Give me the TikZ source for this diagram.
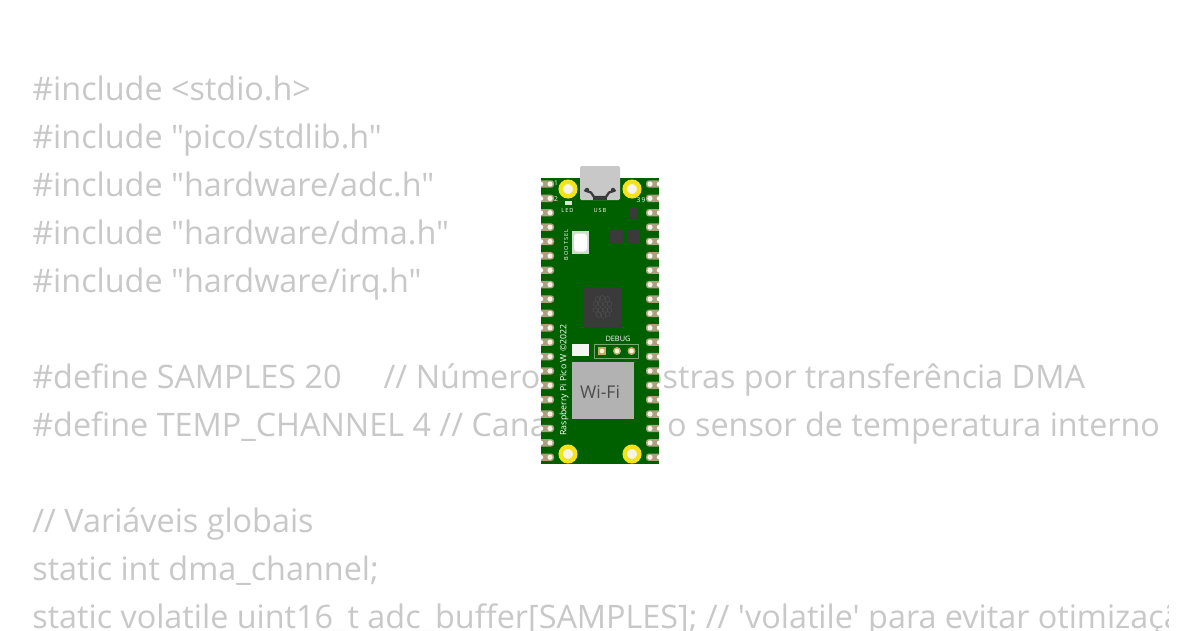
\documentclass[tikz,border=0pt]{standalone}
\usepackage{fontspec}
\usepackage{tikz}
\newfontfamily\codefont{Open Sans}
\definecolor{codegray}{HTML}{C8C8C8}
\definecolor{pcbgreen}{HTML}{006000}
\definecolor{padtan}{HTML}{ACA080}
\definecolor{padgold}{HTML}{C4AC5C}
\definecolor{holecream}{HTML}{F6F4E6}
\definecolor{chipdark}{HTML}{3A3A3A}
\definecolor{ringyellow}{HTML}{F4E31C}
\tikzset{
  codeline/.style={anchor=base west, inner sep=0pt, text=codegray, font=\codefont\fontsize{18.41}{22}\selectfont},
  silk/.style={inner sep=0pt, text=white, font=\codefont\fontsize{3.2}{4}\selectfont},
  pinlabel/.style={silk, font=\codefont\fontsize{3.8}{4}\selectfont},
  mounthole/.style={circle, fill=holecream, draw=ringyellow, line width=2.56pt, minimum size=0.29cm, inner sep=0pt, outer sep=0pt}
}

\begin{document}
\begin{tikzpicture}[x=0.02cm, y=-0.02cm]
  \useasboundingbox (0,0) rectangle (1200,630);
  \fill[white] (0,0) rectangle (1200,630);

  % code behind the board
  \begin{scope}
    \clip (0,0) rectangle (1168,630);
    \node[codeline] (inc1) at (32,100) {\#include <stdio.h>};
    \node[codeline] (inc2) at (32,148) {\#include "pico/stdlib.h"};
    \node[codeline] (inc3) at (32,196) {\#include "hardware/adc.h"};
    \node[codeline] (inc4) at (32,244) {\#include "hardware/dma.h"};
    \node[codeline] (inc5) at (32,292) {\#include "hardware/irq.h"};
    \node[codeline] (def1) at (32,388) {\#define SAMPLES 20\ \ \ \ \ // Número de amostras por transferência DMA};
    \node[codeline] (def2) at (32,436) {\#define TEMP\_CHANNEL 4 // Canal\hspace{0.52cm} para o sensor de temperatura interno};
    \node[codeline] (var1) at (32,532) {// Variáveis globais};
    \node[codeline] (var2) at (32,580) {static int dma\_channel;};
    \node[codeline] (var3) at (32,628) {static volatile uint16\_t adc\_buffer[SAMPLES]; // 'volatile' para evitar otimização};
  \end{scope}

  % board
  \fill[pcbgreen] (541,178) rectangle (659,464);

  % castellated pads
  \foreach \i in {0,...,19} {
    \pgfmathsetmacro{\py}{184+14.38*\i}
    \fill[padtan] (541,\py-3.7) [rounded corners=1.6pt] -- (554,\py-3.7) -- (554,\py+3.7) [sharp corners] -- (541,\py+3.7) -- cycle;
    \fill[padtan] (659,\py-3.7) [rounded corners=1.6pt] -- (646,\py-3.7) -- (646,\py+3.7) [sharp corners] -- (659,\py+3.7) -- cycle;
    \fill[holecream] (550,\py) circle (2.6);
    \fill[holecream] (650,\py) circle (2.6);
    \fill[white] (541,\py) circle (2.2);
    \fill[white] (659,\py) circle (2.2);
  }

  % usb connector
  \fill[codegray, rounded corners=0.8pt] (580,166) rectangle (620,200);
  \draw[chipdark, line width=1.3pt, line cap=round, line join=round] (585,190.5) -- (591,192.5) -- (594,197) -- (606,197) -- (609,192.5) -- (615,190.5);
  \fill[chipdark] (587,190) circle (2.2);
  \fill[chipdark] (613,190) circle (2.2);
  \fill[chipdark] (593,195.5) rectangle (607,200);

  % mounting holes
  \node[mounthole] (hole1) at (568,189) {};
  \node[mounthole] (hole2) at (632,189) {};
  \node[mounthole] (hole3) at (568,454) {};
  \node[mounthole] (hole4) at (632,454) {};

  % silk labels
  \node[pinlabel] (pin1) at (556,183.5) {1};
  \node[pinlabel] (pin2) at (556,199.5) {2};
  \node[pinlabel] (pin39) at (641,200) {3\,9};
  \node[silk] (ledlabel) at (567.5,210) {L\,E\,D};
  \node[silk] (usblabel) at (600,210) {U\,S\,B};
  \node[silk, rotate=90] (bootlabel) at (566,245) {B\,O\,O\,T\,S\,E\,L};
  \node[silk, font=\codefont\fontsize{4.2}{5}\selectfont] (debuglabel) at (618,338.5) {DEBUG};
  \node[silk, rotate=90, font=\codefont\fontsize{5}{6}\selectfont] (namelabel) at (564,380) {Raspberry Pi Pico W ©2022};

  % led and small parts
  \fill[white!85!pcbgreen] (565,201) rectangle (571.5,205);
  \fill[chipdark] (630,208) rectangle (637,219);
  \fill[chipdark] (609.5,229) rectangle (623,244);
  \fill[chipdark] (628,229) rectangle (640,244);

  % bootsel button
  \fill[white!80!pcbgreen] (572,231) rectangle (589,254);
  \fill[white, rounded corners=2pt] (574,233.5) rectangle (587,251.5);

  % rp2040 chip
  \fill[chipdark] (583,287) rectangle (622,327);
  \foreach \dx/\dy in {-5/-8,0/-9,5/-8,-7/-3,-2/-3,3/-3,7/-3,-7/3,-2/3,3/3,7/3,-4/8,1/9,5/7} {
    \draw[chipdark!90!white, line width=0.3pt] (602.5+\dx,307+\dy) circle (2.4);
  }

  % debug header
  \fill[white!95!pcbgreen] (572,344) rectangle (589,356);
  \draw[white!45!pcbgreen, line width=0.3pt] (594.5,344.5) rectangle (638,358);
  \fill[padgold] (598,347) rectangle (606,355);
  \fill[padgold] (617,351) circle (4);
  \fill[padgold] (631.5,351) circle (4);
  \fill[holecream] (602,351) circle (2.3);
  \fill[holecream] (617,351) circle (2.3);
  \fill[holecream] (631.5,351) circle (2.3);

  % wifi module
  \fill[black!30] (572,362) rectangle (634,419);
  \node[inner sep=0pt, text=black!70, font=\codefont\fontsize{10}{12}\selectfont] (wifi) at (600,392) {Wi-Fi};
\end{tikzpicture}
\end{document}
